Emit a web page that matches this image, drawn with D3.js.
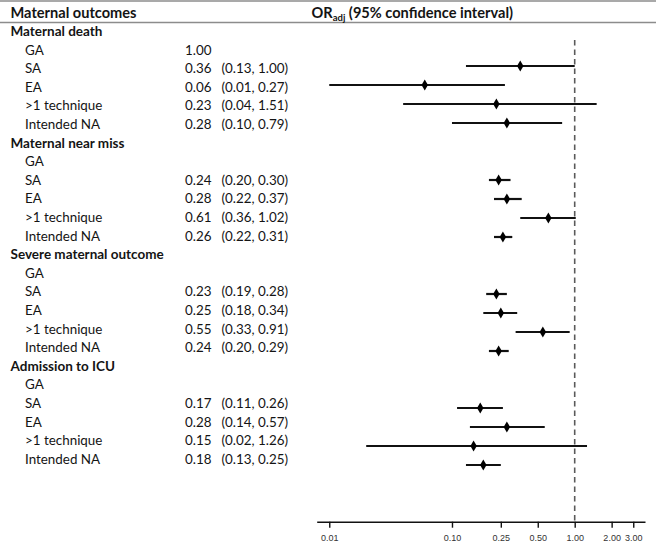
<!DOCTYPE html>
<html>
<head>
<meta charset="utf-8">
<script src="https://cdn.jsdelivr.net/npm/d3@7"></script>
<style>
  html, body { margin: 0; padding: 0; background: #fff; }
  svg { display: block; }
</style>
</head>
<body>
<svg id="chart" width="656" height="542"></svg>
<script>
// ---- data ----
const groups = ["Maternal death", "Maternal near miss", "Severe maternal outcome", "Admission to ICU"];
const techniques = ["GA", "SA", "EA", ">1 technique", "Intended NA"];
const orValues = [
  [1.00, 0.36, 0.06, 0.23, 0.28],
  [null, 0.24, 0.28, 0.61, 0.26],
  [null, 0.23, 0.25, 0.55, 0.24],
  [null, 0.17, 0.28, 0.15, 0.18]
];
const ciLower = [
  [null, 0.13, 0.01, 0.04, 0.10],
  [null, 0.20, 0.22, 0.36, 0.22],
  [null, 0.19, 0.18, 0.33, 0.20],
  [null, 0.11, 0.14, 0.02, 0.13]
];
const ciUpper = [
  [null, 1.00, 0.27, 1.51, 0.79],
  [null, 0.30, 0.37, 1.02, 0.31],
  [null, 0.28, 0.34, 0.91, 0.29],
  [null, 0.26, 0.57, 1.26, 0.25]
];
const tickValues = [0.01, 0.10, 0.25, 0.50, 1.00, 2.00, 3.00];
const refValue = 1.00;

// ---- build rows ----
const rows = [];
groups.forEach((g, gi) => {
  rows.push({type: "group", label: g});
  techniques.forEach((t, ti) => {
    rows.push({type: "item", label: t, or: orValues[gi][ti], lo: ciLower[gi][ti], hi: ciUpper[gi][ti]});
  });
});
rows.forEach((r, i) => r.idx = i);

const svg = d3.select("#chart");
const FONT = "Lato, 'Open Sans', sans-serif";
const TXT = "#141414";

const yText = d3.scaleLinear().domain([0, rows.length - 1]).range([36, 463.8]);   // baselines
const yMark = d3.scaleLinear().domain([0, rows.length - 1]).range([28, 465]);
const x = d3.scaleLog().domain([0.0079, 3.74]).range([316.7, 645]);

// rules
svg.append("line").attr("x1", 0).attr("x2", 656).attr("y1", 1).attr("y2", 1)
  .attr("stroke", "#8c8c8c").attr("stroke-width", 1.5);
svg.append("line").attr("x1", 0).attr("x2", 656).attr("y1", 22.5).attr("y2", 22.5)
  .attr("stroke", "#8c8c8c").attr("stroke-width", 1.5);

// header
svg.append("text").attr("x", 10.5).attr("y", 18.3).attr("font-family", FONT)
  .attr("font-size", 14.6).attr("font-weight", "bold").attr("fill", TXT).text("Maternal outcomes");
const h = svg.append("text").attr("x", 311.5).attr("y", 18.3).attr("font-family", FONT)
  .attr("font-size", 14.6).attr("font-weight", "bold").attr("fill", TXT);
h.append("tspan").text("OR");
h.append("tspan").attr("font-size", 9.5).attr("dy", 2.5).text("adj");
h.append("tspan").attr("dy", -2.5).text(" (95% confidence interval)");

// row text
const rg = svg.append("g").attr("font-family", FONT).attr("font-size", 13.4).attr("fill", TXT);
rows.forEach(r => {
  const yb = yText(r.idx);
  if (r.type === "group") {
    rg.append("text").attr("x", 10.5).attr("y", yb).attr("font-weight", "bold").attr("font-size", 13.5).text(r.label);
  } else {
    rg.append("text").attr("x", 25).attr("y", yb).text(r.label);
    if (r.or != null) rg.append("text").attr("x", 185).attr("y", yb).text(d3.format(".2f")(r.or));
    if (r.lo != null) rg.append("text").attr("x", 221.5).attr("y", yb)
      .text("(" + d3.format(".2f")(r.lo) + ", " + d3.format(".2f")(r.hi) + ")");
  }
});

// axis
const axisY = 521.7;
const ax = svg.append("g").attr("transform", `translate(0,${axisY})`)
  .call(d3.axisBottom(x).tickValues(tickValues).tickFormat(d3.format(".2f")).tickSize(6).tickSizeOuter(0).tickPadding(7));
ax.select(".domain").attr("stroke", "#111").attr("stroke-width", 1.6);
ax.selectAll(".tick line").attr("stroke", "#111").attr("stroke-width", 1.4);
ax.selectAll(".tick text").attr("font-family", "'Liberation Sans', Arial, sans-serif").attr("font-size", 9).attr("fill", "#333");

// reference line
svg.append("line").attr("x1", x(refValue)).attr("x2", x(refValue)).attr("y1", 40).attr("y2", axisY)
  .attr("stroke", "#5a5a5a").attr("stroke-width", 1.6).attr("stroke-dasharray", "5.5,4");

// CIs and points
const marks = rows.filter(r => r.type === "item" && r.lo != null);
svg.append("g").selectAll("line").data(marks).join("line")
  .attr("x1", d => x(d.lo)).attr("x2", d => x(d.hi))
  .attr("y1", d => yMark(d.idx)).attr("y2", d => yMark(d.idx))
  .attr("stroke", "#111").attr("stroke-width", 2.2);
svg.append("g").selectAll("path").data(marks).join("path")
  .attr("d", d3.symbol(d3.symbolDiamond, 36))
  .attr("transform", d => `translate(${x(d.or)},${yMark(d.idx)})`)
  .attr("fill", "#000");
</script>
</body>
</html>
